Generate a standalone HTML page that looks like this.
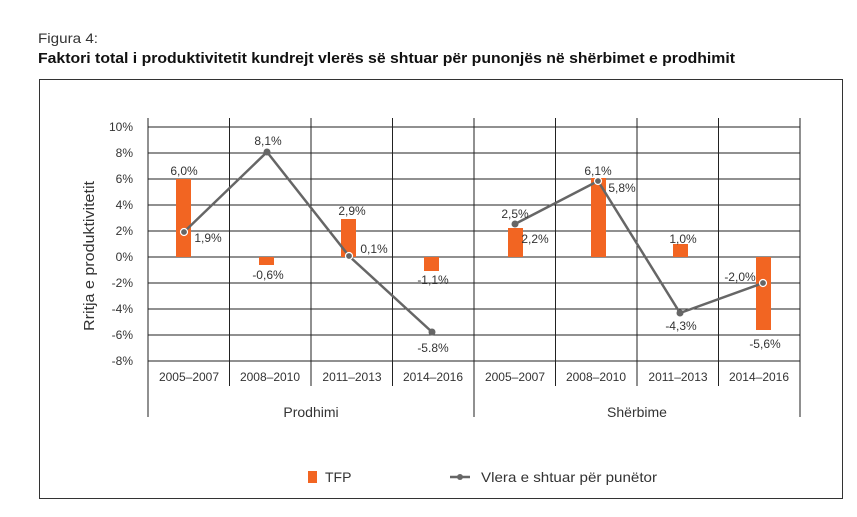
<!DOCTYPE html>
<html><head><meta charset="utf-8"><style>
body{margin:0;background:#fff;width:857px;height:512px;overflow:hidden;font-family:"Liberation Sans",sans-serif;}
</style></head><body>
<svg width="857" height="512" xmlns="http://www.w3.org/2000/svg" font-family="Liberation Sans, sans-serif">
<text x="38" y="43" font-size="14" fill="#333" textLength="60" lengthAdjust="spacingAndGlyphs">Figura 4:</text>
<text x="38" y="63" font-size="14.5" font-weight="bold" fill="#111" textLength="697" lengthAdjust="spacingAndGlyphs">Faktori total i produktivitetit kundrejt vlerës së shtuar për punonjës në shërbimet e prodhimit</text>
<rect x="39.5" y="79.5" width="803" height="419" fill="none" stroke="#333" stroke-width="1"/>
<g stroke="#222" stroke-width="1">
<line x1="148" y1="127" x2="800" y2="127"/><line x1="148" y1="153" x2="800" y2="153"/><line x1="148" y1="179" x2="800" y2="179"/><line x1="148" y1="205" x2="800" y2="205"/><line x1="148" y1="231" x2="800" y2="231"/><line x1="148" y1="257" x2="800" y2="257"/><line x1="148" y1="283" x2="800" y2="283"/><line x1="148" y1="309" x2="800" y2="309"/><line x1="148" y1="335" x2="800" y2="335"/><line x1="148" y1="361" x2="800" y2="361"/>
<line x1="148" y1="118" x2="148" y2="417"/><line x1="474" y1="118" x2="474" y2="417"/><line x1="800" y1="118" x2="800" y2="417"/>
<line x1="229.5" y1="118" x2="229.5" y2="386"/><line x1="311" y1="118" x2="311" y2="386"/><line x1="392.5" y1="118" x2="392.5" y2="386"/>
<line x1="555.5" y1="118" x2="555.5" y2="386"/><line x1="637" y1="118" x2="637" y2="386"/><line x1="718.5" y1="118" x2="718.5" y2="386"/>
</g>
<g font-size="12" fill="#333" text-anchor="end">
<text x="133" y="131">10%</text><text x="133" y="157">8%</text><text x="133" y="183">6%</text><text x="133" y="209">4%</text><text x="133" y="235">2%</text><text x="133" y="261">0%</text><text x="133" y="287">-2%</text><text x="133" y="313">-4%</text><text x="133" y="339">-6%</text><text x="133" y="365">-8%</text>
</g>
<text transform="translate(94,256) rotate(-90)" font-size="15" fill="#333" text-anchor="middle" textLength="150" lengthAdjust="spacingAndGlyphs">Rritja e produktivitetit</text>
<g font-size="12" fill="#333" text-anchor="middle">
<text x="189" y="381">2005–2007</text><text x="270" y="381">2008–2010</text><text x="352" y="381">2011–2013</text><text x="433" y="381">2014–2016</text>
<text x="515" y="381">2005–2007</text><text x="596" y="381">2008–2010</text><text x="678" y="381">2011–2013</text><text x="759" y="381">2014–2016</text>
<text x="311" y="417" font-size="14">Prodhimi</text><text x="637" y="417" font-size="14">Shërbime</text>
</g>
<g fill="#f26522">
<rect x="176" y="179" width="15" height="78"/>
<rect x="259" y="257" width="15" height="8"/>
<rect x="341" y="219" width="15" height="38"/>
<rect x="424" y="257" width="15" height="14"/>
<rect x="508" y="228" width="15" height="29"/>
<rect x="591" y="178" width="15" height="79"/>
<rect x="673" y="244" width="15" height="13"/>
<rect x="756" y="257" width="15" height="73"/>
</g>
<polyline points="184,232 267,152 349,256 432,332" fill="none" stroke="#666" stroke-width="2.5"/>
<polyline points="515,224 598,181 680,313 763,283" fill="none" stroke="#666" stroke-width="2.5"/>
<g fill="#666">
<circle cx="267" cy="152" r="3.5"/><circle cx="432" cy="332" r="3.5"/><circle cx="515" cy="224" r="3.5"/><circle cx="680" cy="313" r="3.5"/>
</g>
<g fill="none" stroke="#fff" stroke-width="1.2">
<circle cx="184" cy="232" r="3.5" fill="#666"/><circle cx="349" cy="256" r="3.5" fill="#666"/><circle cx="598" cy="181" r="3.5" fill="#666"/><circle cx="763" cy="283" r="3.5" fill="#666"/>
</g>
<g font-size="12" fill="#333" text-anchor="middle">
<text x="184" y="175">6,0%</text><text x="208" y="242">1,9%</text>
<text x="268" y="145">8,1%</text><text x="268" y="279">-0,6%</text>
<text x="352" y="215">2,9%</text><text x="374" y="253">0,1%</text>
<text x="433" y="284">-1,1%</text><text x="433" y="352">-5.8%</text>
<text x="515" y="218">2,5%</text><text x="535" y="243">2,2%</text>
<text x="598" y="175">6,1%</text><text x="622" y="192">5,8%</text>
<text x="683" y="243">1,0%</text><text x="681" y="330">-4,3%</text>
<text x="740" y="281">-2,0%</text><text x="765" y="348">-5,6%</text>
</g>
<rect x="308" y="471" width="9" height="12" fill="#f26522"/>
<text x="325" y="482" font-size="14" fill="#333">TFP</text>
<line x1="450" y1="477" x2="470" y2="477" stroke="#666" stroke-width="2.5"/>
<circle cx="460" cy="477" r="3" fill="#666"/>
<text x="481" y="482" font-size="14" fill="#333" textLength="176" lengthAdjust="spacingAndGlyphs">Vlera e shtuar për punëtor</text>
</svg>
</body></html>
